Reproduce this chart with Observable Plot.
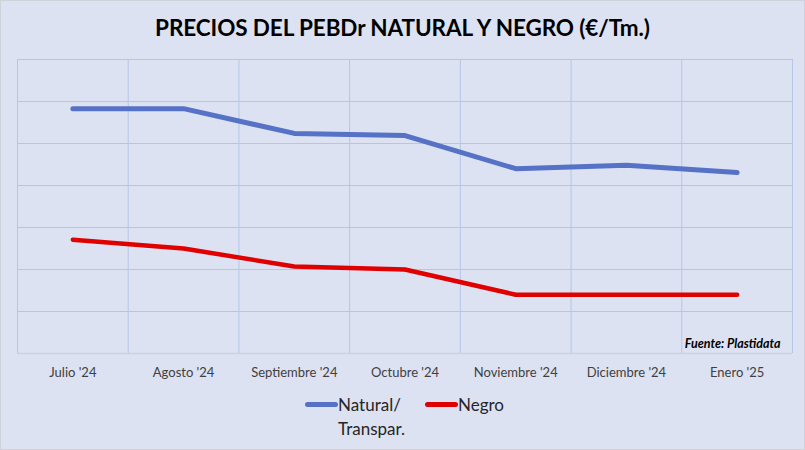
<!DOCTYPE html>
<html><head><meta charset="utf-8">
<script src="https://cdn.jsdelivr.net/npm/d3@7"></script>
<script src="https://cdn.jsdelivr.net/npm/@observablehq/plot@0.6"></script>
<style>
html,body{margin:0;padding:0;}
#wrap{position:relative;width:803px;height:448px;background:#dce2f2;border:1px solid #cfd2d8;font-family:Lato,"Open Sans",sans-serif;overflow:hidden;}
#title{height:49px;line-height:53px;text-align:center;font-weight:bold;font-size:22.5px;color:#000;letter-spacing:-0.1px;}
#legend{position:absolute;left:0;top:392px;width:803px;font-size:17px;color:#262626;}
.item{position:absolute;display:flex;align-items:flex-start;}
.sw{width:33px;height:5px;border-radius:3px;margin-top:9px;}
</style></head>
<body><div id="wrap"><div id="title">PRECIOS DEL PEBDr NATURAL Y NEGRO (€/Tm.)</div><div id="chart"></div>
<div id="legend">
<div class="item" style="left:304px"><div class="sw" style="background:#5572c6"></div><div style="line-height:24px">Natural/<br>Transpar.</div></div>
<div class="item" style="left:424px"><div class="sw" style="background:#e00000"></div><div style="line-height:24px">Negro</div></div>
</div></div>
<script>
const months = ["Julio '24","Agosto '24","Septiembre '24","Octubre '24","Noviembre '24","Diciembre '24","Enero '25"];
const natural = [5.83, 5.83, 5.24, 5.19, 4.40, 4.48, 4.31];
const negro = [2.71, 2.50, 2.07, 2.00, 1.40, 1.40, 1.40];
const gridLevels = [1,2,3,4,5,6,7];
const source = ["Fuente: Plastidata"];

const idx = months.map((m,i)=>i);
const bounds = d3.range(months.length+1).map(i=>i-0.5);
const natData = months.map((m,i)=>({i, v:natural[i]}));
const negData = months.map((m,i)=>({i, v:negro[i]}));

const chart = Plot.plot({
  width: 803, height: 335,
  marginTop: 9, marginBottom: 32, marginLeft: 16, marginRight: 12,
  style: {background:"transparent", fontFamily:"Lato, 'Open Sans', sans-serif"},
  x: {type:"linear", domain:[-0.5, months.length-0.5]},
  y: {domain:[0,7]},
  marks: [
    Plot.ruleY(gridLevels, {stroke:"#b4c6e8", strokeWidth:1}),
    Plot.ruleX(bounds, {stroke:"#b4c6e8", strokeWidth:1}),
    Plot.ruleY([0], {stroke:"#cdd1da", strokeWidth:1.5}),
    Plot.axisX(idx, {tickFormat:i=>months[i], tickSize:0, tickPadding:14, fontSize:13, fill:"#404040", label:null}),
    Plot.axisY({ticks:[], label:null, tickSize:0}),
    Plot.line(natData, {x:"i", y:"v", stroke:"#5572c6", strokeWidth:5, strokeLinecap:"round", strokeLinejoin:"round"}),
    Plot.line(negData, {x:"i", y:"v", stroke:"#e00000", strokeWidth:4.5, strokeLinecap:"round", strokeLinejoin:"round"}),
    Plot.text(source, {frameAnchor:"bottom-right", dx:-12, dy:-6, fontSize:12.5, fontWeight:"bold", fontStyle:"italic", fill:"#000", text:d=>d})
  ]
});
document.getElementById("chart").appendChild(chart);
</script></body></html>
